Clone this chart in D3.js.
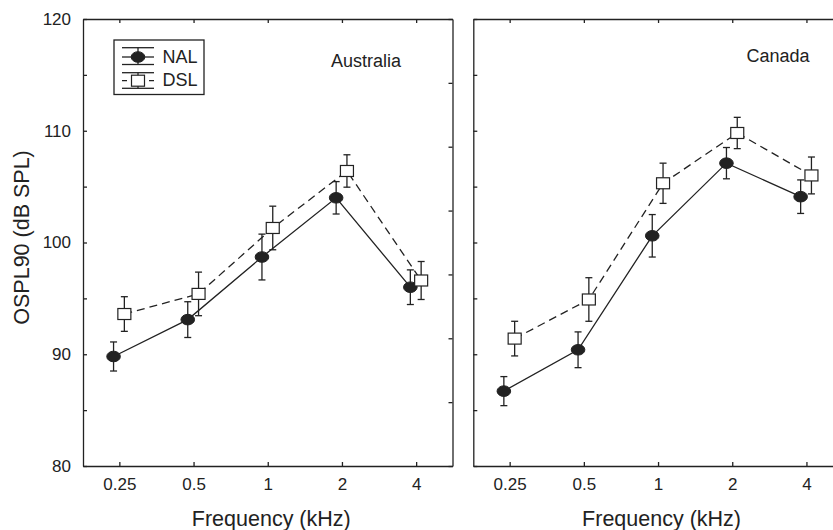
<!DOCTYPE html>
<html>
<head>
<meta charset="utf-8">
<script src="https://cdn.jsdelivr.net/npm/d3@7"></script>
<style>
  html, body { margin: 0; padding: 0; background: #fff; }
  svg { display: block; }
  text { font-family: "Liberation Sans", Arial, Helvetica, sans-serif; fill: #222; }
</style>
</head>
<body>
<svg id="chart" width="833" height="530"></svg>
<script>
// ---------------- data ----------------
const frequencies = ["0.25", "0.5", "1", "2", "4"];
const panelNames = ["Australia", "Canada"];
const seriesNames = ["NAL", "DSL"];
const yTicks = [80, 85, 90, 95, 100, 105, 110, 115, 120];

const nalAustralia    = [89.8, 93.1, 98.7, 104.0, 96.0];
const nalAustraliaErr = [1.3, 1.6, 2.05, 1.45, 1.55];
const dslAustralia    = [93.6, 95.4, 101.3, 106.4, 96.6];
const dslAustraliaErr = [1.55, 1.95, 1.95, 1.45, 1.7];

const nalCanada    = [86.7, 90.4, 100.6, 107.1, 104.1];
const nalCanadaErr = [1.3, 1.6, 1.9, 1.4, 1.5];
const dslCanada    = [91.4, 94.9, 105.3, 109.8, 106.0];
const dslCanadaErr = [1.55, 1.95, 1.8, 1.4, 1.65];

// ---------------- layout ----------------
const panelW = 369.5, panelH = 447, panelTop = 19;
const panelX = [83, 473.3];
const titlePos = [{x: 366, y: 66.5}, {x: 778, y: 61.5}];
const ink = "#222";

const panels = [
  {name: panelNames[0], series: [
    {name: seriesNames[0], values: nalAustralia, err: nalAustraliaErr},
    {name: seriesNames[1], values: dslAustralia, err: dslAustraliaErr}]},
  {name: panelNames[1], series: [
    {name: seriesNames[0], values: nalCanada, err: nalCanadaErr},
    {name: seriesNames[1], values: dslCanada, err: dslCanadaErr}]}
];

const svg = d3.select("#chart");

const x = d3.scalePoint().domain(frequencies).range([0, panelW]).padding(0.49);
const y = d3.scaleLinear().domain([80, 120]).range([panelH, 0]);
const yRight = d3.scaleLinear().domain([0, 7]).range([panelH, 0]);

const offsets = {NAL: -5.8, DSL: 5.0};
const dashes = {NAL: null, DSL: "8,5"};

function drawMarker(g, name, cx, cy) {
  if (name === "NAL") {
    g.append("ellipse").attr("cx", cx).attr("cy", cy).attr("rx", 6.8).attr("ry", 5.3)
      .attr("fill", ink).attr("stroke", ink).attr("stroke-width", 1);
  } else {
    g.append("rect").attr("x", cx - 6.5).attr("y", cy - 5.5).attr("width", 13).attr("height", 11)
      .attr("fill", "#fff").attr("stroke", ink).attr("stroke-width", 1.2);
  }
}

panels.forEach((p, pi) => {
  const g = svg.append("g").attr("transform", `translate(${panelX[pi]},${panelTop})`);

  // axes / frame
  const axL = g.append("g").call(
    d3.axisLeft(y).tickValues(yTicks).tickSizeInner(-4).tickSizeOuter(0).tickPadding(12)
      .tickFormat(d => (pi === 0 && d % 10 === 0) ? d : ""));
  const axR = g.append("g").attr("transform", `translate(${panelW},0)`).call(
    d3.axisRight(yRight).ticks(7).tickSizeInner(-4).tickSizeOuter(0).tickFormat(""));
  const axB = g.append("g").attr("transform", `translate(0,${panelH})`).call(
    d3.axisBottom(x).tickSizeInner(-4).tickSizeOuter(0).tickPadding(11.5));
  const axT = g.append("g").call(
    d3.axisTop(x).tickSizeInner(-4).tickSizeOuter(0).tickFormat(""));
  [axL, axR, axB, axT].forEach(a => {
    a.attr("font-size", null).attr("font-family", null);
    a.selectAll("path, line").attr("stroke", ink).attr("stroke-width", 1.3);
    a.selectAll("text").style("font-size", "17px").attr("fill", ink);
  });

  // panel title
  svg.append("text").attr("x", titlePos[pi].x).attr("y", titlePos[pi].y)
    .attr("text-anchor", "middle").style("font-size", "18px").text(p.name);

  // x axis title
  svg.append("text").attr("x", panelX[pi] + panelW / 2 + 3.5).attr("y", 526)
    .attr("text-anchor", "middle").style("font-size", "21.5px").text("Frequency (kHz)");

  // series
  p.series.forEach(s => {
    const off = offsets[s.name];
    const pts = frequencies.map((f, i) => ({cx: x(f) + off, v: s.values[i], e: s.err[i]}));
    g.append("path")
      .datum(pts)
      .attr("fill", "none").attr("stroke", ink).attr("stroke-width", 1.3)
      .attr("stroke-dasharray", dashes[s.name])
      .attr("d", d3.line().x(d => d.cx).y(d => y(d.v)));
    pts.forEach(d => {
      const eg = g.append("g").attr("stroke", ink).attr("stroke-width", 1.3);
      eg.append("line").attr("x1", d.cx).attr("x2", d.cx).attr("y1", y(d.v + d.e)).attr("y2", y(d.v - d.e));
      eg.append("line").attr("x1", d.cx - 3.5).attr("x2", d.cx + 3.5).attr("y1", y(d.v + d.e)).attr("y2", y(d.v + d.e));
      eg.append("line").attr("x1", d.cx - 3.5).attr("x2", d.cx + 3.5).attr("y1", y(d.v - d.e)).attr("y2", y(d.v - d.e));
    });
    pts.forEach(d => drawMarker(g, s.name, d.cx, y(d.v)));
  });
});

// y axis title
svg.append("text").attr("transform", "translate(29,237.5) rotate(-90)")
  .attr("text-anchor", "middle").style("font-size", "21.5px").text("OSPL90 (dB SPL)");

// legend
const lg = svg.append("g");
lg.append("rect").attr("x", 114).attr("y", 40).attr("width", 90).attr("height", 54.5)
  .attr("fill", "#fff").attr("stroke", ink).attr("stroke-width", 1.3);
const legendRows = [
  {name: seriesNames[0], cy: 57, topY: 47.7, botY: 64.5, textY: 62.5},
  {name: seriesNames[1], cy: 80.7, topY: 72.7, botY: 88.3, textY: 86.2}
];
legendRows.forEach(r => {
  const sg = lg.append("g").attr("stroke", ink).attr("stroke-width", 1.3);
  sg.append("line").attr("x1", 122).attr("x2", 154).attr("y1", r.topY).attr("y2", r.topY);
  sg.append("line").attr("x1", 122).attr("x2", 154).attr("y1", r.botY).attr("y2", r.botY);
  sg.append("line").attr("x1", 138).attr("x2", 138).attr("y1", r.topY).attr("y2", r.botY);
  sg.append("line").attr("x1", 122).attr("x2", 154).attr("y1", r.cy).attr("y2", r.cy)
    .attr("stroke-dasharray", r.name === "DSL" ? "5,22" : null);
  drawMarker(lg, r.name, 138, r.cy);
  lg.append("text").attr("x", 162.5).attr("y", r.textY).style("font-size", "18px").text(r.name);
});
</script>
</body>
</html>
